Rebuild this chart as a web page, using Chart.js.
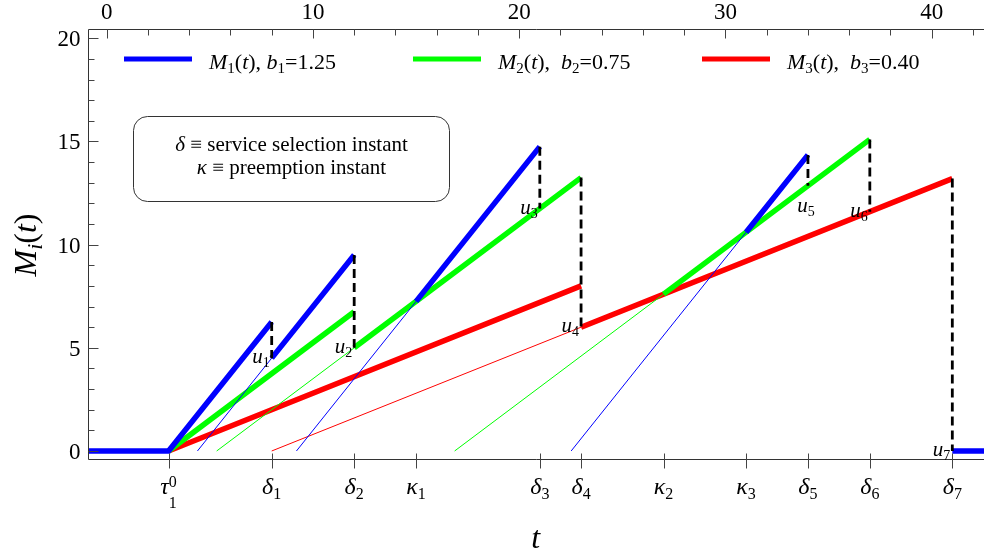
<!DOCTYPE html>
<html><head><meta charset="utf-8">
<script src="https://cdn.jsdelivr.net/npm/chart.js@4.4.1/dist/chart.umd.min.js"></script>
<style>html,body{margin:0;padding:0;background:#fff;}#wrap{width:984px;height:556px;position:relative;}</style>
</head><body><div id="wrap"><canvas id="c" width="984" height="556"></canvas></div>
<script>
// ---- axis ranges and ticks ----
const X_MIN = -0.882, X_MAX = 42.536;
const Y_MIN = -0.412, Y_MAX = 20.426;
const TOP_TICKS = [0, 10, 20, 30, 40];
const TOP_MINOR_STEP = 2;
const LEFT_TICKS = [0, 5, 10, 15, 20];
const LEFT_MINOR_STEP = 1;
const EVENT_TIMES = [3, 8, 12, 15, 21, 23, 27, 31, 34, 37, 41];
const EVENT_SYMBOLS = ['τ', 'δ', 'δ', 'κ', 'δ', 'δ', 'κ', 'κ', 'δ', 'δ', 'δ'];
const EVENT_SUBS = ['1', '1', '2', '1', '3', '4', '2', '3', '5', '6', '7'];
const EVENT_SUPS = ['0', '', '', '', '', '', '', '', '', '', ''];

// ---- series: thick (actual M_i(t)) segments ----
const M1_THICK = [[[-1, 0], [3, 0], [8, 6.25]], [[8, 4.5], [12, 9.5]], [[15, 7.25], [21, 14.75]], [[31, 10.6], [34, 14.35]], [[41, 0], [43, 0]]];
const M2_THICK = [[[3, 0], [12, 6.75]], [[12, 5.0], [23, 13.25]], [[27, 7.6], [37, 15.1]]];
const M3_THICK = [[[3, 0], [23, 8.0]], [[23, 6.0], [41, 13.2]]];
// ---- thin extrapolation segments ----
const M1_THIN = [[[4.4, 0], [8, 4.5]], [[9.2, 0], [15, 7.25]], [[22.52, 0], [31, 10.6]]];
const M2_THIN = [[[5.333, 0], [12, 5.0]], [[16.87, 0], [27, 7.6]]];
const M3_THIN = [[[8, 0], [23, 6.0]]];
// ---- resets (dashed drops) ----
const RESET_TIMES = [8, 12, 21, 23, 34, 37, 41];
const RESET_FROM = [6.25, 9.5, 14.75, 13.25, 14.35, 15.1, 13.2];
const RESET_TO = [4.5, 5.0, 11.75, 6.0, 12.85, 11.6, 0];
const RESET_SUBS = ['1', '2', '3', '4', '5', '6', '7'];
// ---- legend ----
const SERIES_SUBS = ['1', '2', '3'];
const B_VALUES = ['1.25', '0.75', '0.40'];
const SERIES_COLORS = ['#0000ff', '#00ff00', '#ff0000'];
const BOX_LINES = [['δ', ' ≡ service selection instant'], ['κ', ' ≡ preemption instant']];

function toData(segs) {
  const out = [];
  segs.forEach((s, i) => {
    if (i > 0) out.push({x: s[0][0], y: null});
    s.forEach(p => out.push({x: p[0], y: p[1]}));
  });
  return out;
}
const dashSegs = RESET_TIMES.map((t, i) => [[t, RESET_FROM[i]], [t, RESET_TO[i]]]);

const FF = '"Liberation Serif", "Times New Roman", "DejaVu Serif", serif';
function font(sz, it) { return (it ? 'italic ' : '') + sz + 'px ' + FF; }
function rich(ctx, parts, x, y, align) {
  let w = 0;
  parts.forEach(p => { ctx.font = font(p.sz, p.it); p.w = ctx.measureText(p.t).width; w += p.w; });
  let sx = align === 'right' ? x - w : align === 'center' ? x - w / 2 : x;
  ctx.textBaseline = 'alphabetic'; ctx.textAlign = 'left';
  parts.forEach(p => { ctx.font = font(p.sz, p.it); ctx.fillText(p.t, sx, y + (p.dy || 0)); sx += p.w; });
  return w;
}

const deco = {
  id: 'deco',
  afterDatasetsDraw(chart) {
    const {ctx, chartArea: ca, scales: {x, y}} = chart;
    ctx.save();
    ctx.fillStyle = '#000';
    // frame
    ctx.strokeStyle = '#333'; ctx.lineWidth = 1;
    ctx.beginPath();
    ctx.moveTo(ca.left, ca.bottom); ctx.lineTo(ca.left, ca.top); ctx.lineTo(ca.right, ca.top);
    ctx.moveTo(ca.left, ca.bottom); ctx.lineTo(ca.right, ca.bottom);
    ctx.stroke();
    // top ticks
    ctx.strokeStyle = '#444';
    ctx.beginPath();
    for (let v = 0; v <= X_MAX; v += TOP_MINOR_STEP) {
      const px = Math.round(x.getPixelForValue(v)) + 0.5;
      const len = TOP_TICKS.includes(v) ? 9 : 6;
      ctx.moveTo(px, ca.top); ctx.lineTo(px, ca.top + len);
    }
    for (let v = 0; v <= Y_MAX; v += LEFT_MINOR_STEP) {
      const py = Math.round(y.getPixelForValue(v)) + 0.5;
      const len = LEFT_TICKS.includes(v) ? 10 : 6;
      ctx.moveTo(ca.left, py); ctx.lineTo(ca.left + len, py);
    }
    EVENT_TIMES.forEach(t => {
      const px = Math.round(x.getPixelForValue(t)) + 0.5;
      ctx.moveTo(px, ca.bottom - 6); ctx.lineTo(px, ca.bottom + 9);
    });
    ctx.stroke();
    // tick labels
    ctx.font = font(23, false); ctx.textAlign = 'center'; ctx.textBaseline = 'alphabetic';
    TOP_TICKS.forEach(v => ctx.fillText(String(v), x.getPixelForValue(v), ca.top - 11));
    ctx.textAlign = 'right';
    LEFT_TICKS.forEach(v => ctx.fillText(String(v), ca.left - 8, y.getPixelForValue(v) + 8));
    // bottom event labels
    EVENT_TIMES.forEach((t, i) => {
      const px = x.getPixelForValue(t);
      if (EVENT_SUPS[i]) {
        ctx.font = font(24, true); const w1 = ctx.measureText(EVENT_SYMBOLS[i]).width;
        ctx.font = font(16, false); const w2 = ctx.measureText(EVENT_SUBS[i]).width;
        const sx = px - (w1 + w2) / 2;
        ctx.textAlign = 'left';
        ctx.font = font(24, true); ctx.fillText(EVENT_SYMBOLS[i], sx, ca.bottom + 34);
        ctx.font = font(16, false);
        ctx.fillText(EVENT_SUPS[i], sx + w1, ca.bottom + 27);
        ctx.fillText(EVENT_SUBS[i], sx + w1, ca.bottom + 48);
      } else {
        rich(ctx, [{t: EVENT_SYMBOLS[i], sz: 24, it: true}, {t: EVENT_SUBS[i], sz: 16, dy: 5}], px, ca.bottom + 34, 'center');
      }
    });
    // axis titles
    rich(ctx, [{t: 't', sz: 32, it: true}], x.getPixelForValue(20.8), 548, 'center');
    ctx.save();
    ctx.translate(25, 245); ctx.rotate(-Math.PI / 2);
    rich(ctx, [{t: 'M', sz: 32, it: true}, {t: 'i', sz: 22, it: true, dy: 6}, {t: '(', sz: 32}, {t: 't', sz: 32, it: true}, {t: ')', sz: 32}], 0, 11, 'center');
    ctx.restore();
    // legend
    const legX = [124, 413, 702];
    const legY = 59;
    SERIES_SUBS.forEach((s, i) => {
      ctx.strokeStyle = SERIES_COLORS[i]; ctx.lineWidth = 5;
      ctx.beginPath(); ctx.moveTo(legX[i], legY); ctx.lineTo(legX[i] + 68, legY); ctx.stroke();
      const sep = i === 0 ? '), ' : '),  ';
      rich(ctx, [{t: 'M', sz: 22, it: true}, {t: s, sz: 15, dy: 4}, {t: '(', sz: 22}, {t: 't', sz: 22, it: true},
        {t: sep, sz: 22}, {t: 'b', sz: 22, it: true}, {t: s, sz: 15, dy: 4}, {t: '=' + B_VALUES[i], sz: 22}], legX[i] + 85, legY + 10, 'left');
    });
    // info box
    const bx = 133.5, by = 116.5, bw = 316, bh = 85, r = 14;
    ctx.strokeStyle = '#333'; ctx.lineWidth = 1;
    ctx.beginPath();
    ctx.moveTo(bx + r, by); ctx.lineTo(bx + bw - r, by); ctx.arcTo(bx + bw, by, bx + bw, by + r, r);
    ctx.lineTo(bx + bw, by + bh - r); ctx.arcTo(bx + bw, by + bh, bx + bw - r, by + bh, r);
    ctx.lineTo(bx + r, by + bh); ctx.arcTo(bx, by + bh, bx, by + bh - r, r);
    ctx.lineTo(bx, by + r); ctx.arcTo(bx, by, bx + r, by, r);
    ctx.stroke();
    BOX_LINES.forEach((l, i) => {
      rich(ctx, [{t: l[0], sz: 21, it: true}, {t: l[1], sz: 21}], bx + bw / 2, by + 34 + i * 23, 'center');
    });
    // reset labels u_k
    RESET_TIMES.forEach((t, i) => {
      const px = x.getPixelForValue(t), py = y.getPixelForValue(RESET_TO[i]);
      const parts = [{t: 'u', sz: 21, it: true}, {t: RESET_SUBS[i], sz: 14, dy: 4}];
      if (i === 4) rich(ctx, parts, px - 2, py + 26, 'center');
      else rich(ctx, parts, px - 2, py + 5, 'right');
    });
    ctx.restore();
  }
};

const lineDs = (segs, color, w, order, extra) => Object.assign({
  data: toData(segs), borderColor: color, borderWidth: w, pointRadius: 0, tension: 0,
  spanGaps: false, fill: false, order: order, clip: 0, borderCapStyle: 'butt'
}, extra || {});

new Chart(document.getElementById('c'), {
  type: 'line',
  data: {
    datasets: [
      lineDs(dashSegs, '#000', 2.8, 0, {borderDash: [9, 5]}),
      lineDs(M1_THIN, SERIES_COLORS[0], 1, 1),
      lineDs(M2_THIN, SERIES_COLORS[1], 1, 1),
      lineDs(M3_THIN, SERIES_COLORS[2], 1, 1),
      lineDs(M1_THICK, SERIES_COLORS[0], 5.5, 2),
      lineDs(M2_THICK, SERIES_COLORS[1], 5.5, 3),
      lineDs(M3_THICK, SERIES_COLORS[2], 5.5, 4)
    ]
  },
  options: {
    responsive: false, animation: false,
    layout: {padding: {left: 88.5, top: 29.5, right: 0, bottom: 96.5}},
    plugins: {legend: {display: false}, tooltip: {enabled: false}},
    scales: {
      x: {type: 'linear', min: X_MIN, max: X_MAX, display: false},
      y: {type: 'linear', min: Y_MIN, max: Y_MAX, display: false}
    }
  },
  plugins: [deco]
});
</script></body></html>
